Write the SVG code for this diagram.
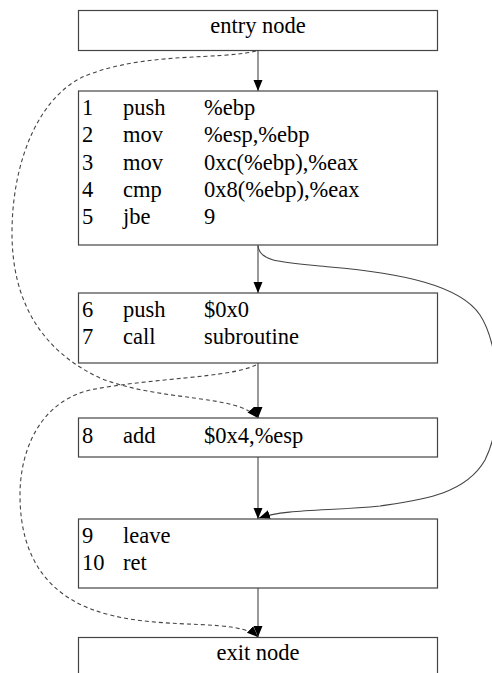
<svg xmlns="http://www.w3.org/2000/svg" width="492" height="673" viewBox="0 0 492 673">
  <style>
    .box { fill: #ffffff; stroke: #444444; stroke-width: 1.2; }
    .t { font-family: "Liberation Serif", "Times New Roman", serif; font-size: 22.5px; fill: #000000; }
    .c { text-anchor: middle; }
    .edge { fill: none; stroke: #444444; stroke-width: 1.1; }
    .dash { stroke-dasharray: 4 3; }
  </style>
  <defs>
    <marker id="arrow" markerUnits="userSpaceOnUse" markerWidth="12" markerHeight="10" refX="11" refY="4.5" orient="auto">
      <path d="M0,0 L11,4.5 L0,9 z" fill="#000000"/>
    </marker>
  </defs>
  <rect width="492" height="673" fill="#ffffff"/>

  <g id="connectors">
    <path class="edge" d="M258,50 L258,91" marker-end="url(#arrow)"/>
    <path class="edge" d="M258,245 L258,293" marker-end="url(#arrow)"/>
    <path class="edge" d="M258,363 L258,418" marker-end="url(#arrow)"/>
    <path class="edge" d="M258,457 L258,519" marker-end="url(#arrow)"/>
    <path class="edge" d="M258,588 L258,637" marker-end="url(#arrow)"/>
    <path class="edge" d="M258,246 C260,262 280,262 330,267 C400,273 460,285 480,315 C500,345 505,420 485,460 C465,495 420,500 380,506 C330,511 285,509 259,518" marker-end="url(#arrow)"/>
    <path class="edge dash" d="M256,51 C220,60 150,52 90,74 C40,92 12,160 12,233 C12,300 40,350 100,378 C160,402 238,394 258,418" marker-end="url(#arrow)"/>
    <path class="edge dash" d="M256,365 C230,378 150,378 90,390 C40,402 20,450 20,495 C20,560 50,600 110,615 C170,630 238,618 258,637" marker-end="url(#arrow)"/>
  </g>

  <g id="entry">
    <rect class="box" x="78.5" y="10.5" width="359" height="40"/>
    <text class="t c" x="258" y="32.5">entry node</text>
  </g>

  <g id="block1">
    <rect class="box" x="78.5" y="91" width="359" height="154"/>
    <text class="t" x="82" y="115">1</text><text class="t" x="123" y="115">push</text><text class="t" x="204" y="115">%ebp</text>
    <text class="t" x="82" y="142.3">2</text><text class="t" x="123" y="142.3">mov</text><text class="t" x="204" y="142.3">%esp,%ebp</text>
    <text class="t" x="82" y="169.7">3</text><text class="t" x="123" y="169.7">mov</text><text class="t" x="204" y="169.7">0xc(%ebp),%eax</text>
    <text class="t" x="82" y="197">4</text><text class="t" x="123" y="197">cmp</text><text class="t" x="204" y="197">0x8(%ebp),%eax</text>
    <text class="t" x="82" y="224.3">5</text><text class="t" x="123" y="224.3">jbe</text><text class="t" x="204" y="224.3">9</text>
  </g>

  <g id="block2">
    <rect class="box" x="78.5" y="293" width="359" height="70"/>
    <text class="t" x="82" y="317.3">6</text><text class="t" x="123" y="317.3">push</text><text class="t" x="204" y="317.3">$0x0</text>
    <text class="t" x="82" y="344.3">7</text><text class="t" x="123" y="344.3">call</text><text class="t" x="204" y="344.3">subroutine</text>
  </g>

  <g id="block3">
    <rect class="box" x="78.5" y="418" width="359" height="39"/>
    <text class="t" x="82" y="443.3">8</text><text class="t" x="123" y="443.3">add</text><text class="t" x="204" y="443.3">$0x4,%esp</text>
  </g>

  <g id="block4">
    <rect class="box" x="78.5" y="519" width="359" height="69"/>
    <text class="t" x="82" y="543.3">9</text><text class="t" x="123" y="543.3">leave</text>
    <text class="t" x="82" y="570">10</text><text class="t" x="123" y="570">ret</text>
  </g>

  <g id="exit">
    <rect class="box" x="78.5" y="637.5" width="359" height="50"/>
    <text class="t c" x="258" y="660">exit node</text>
  </g>
</svg>
